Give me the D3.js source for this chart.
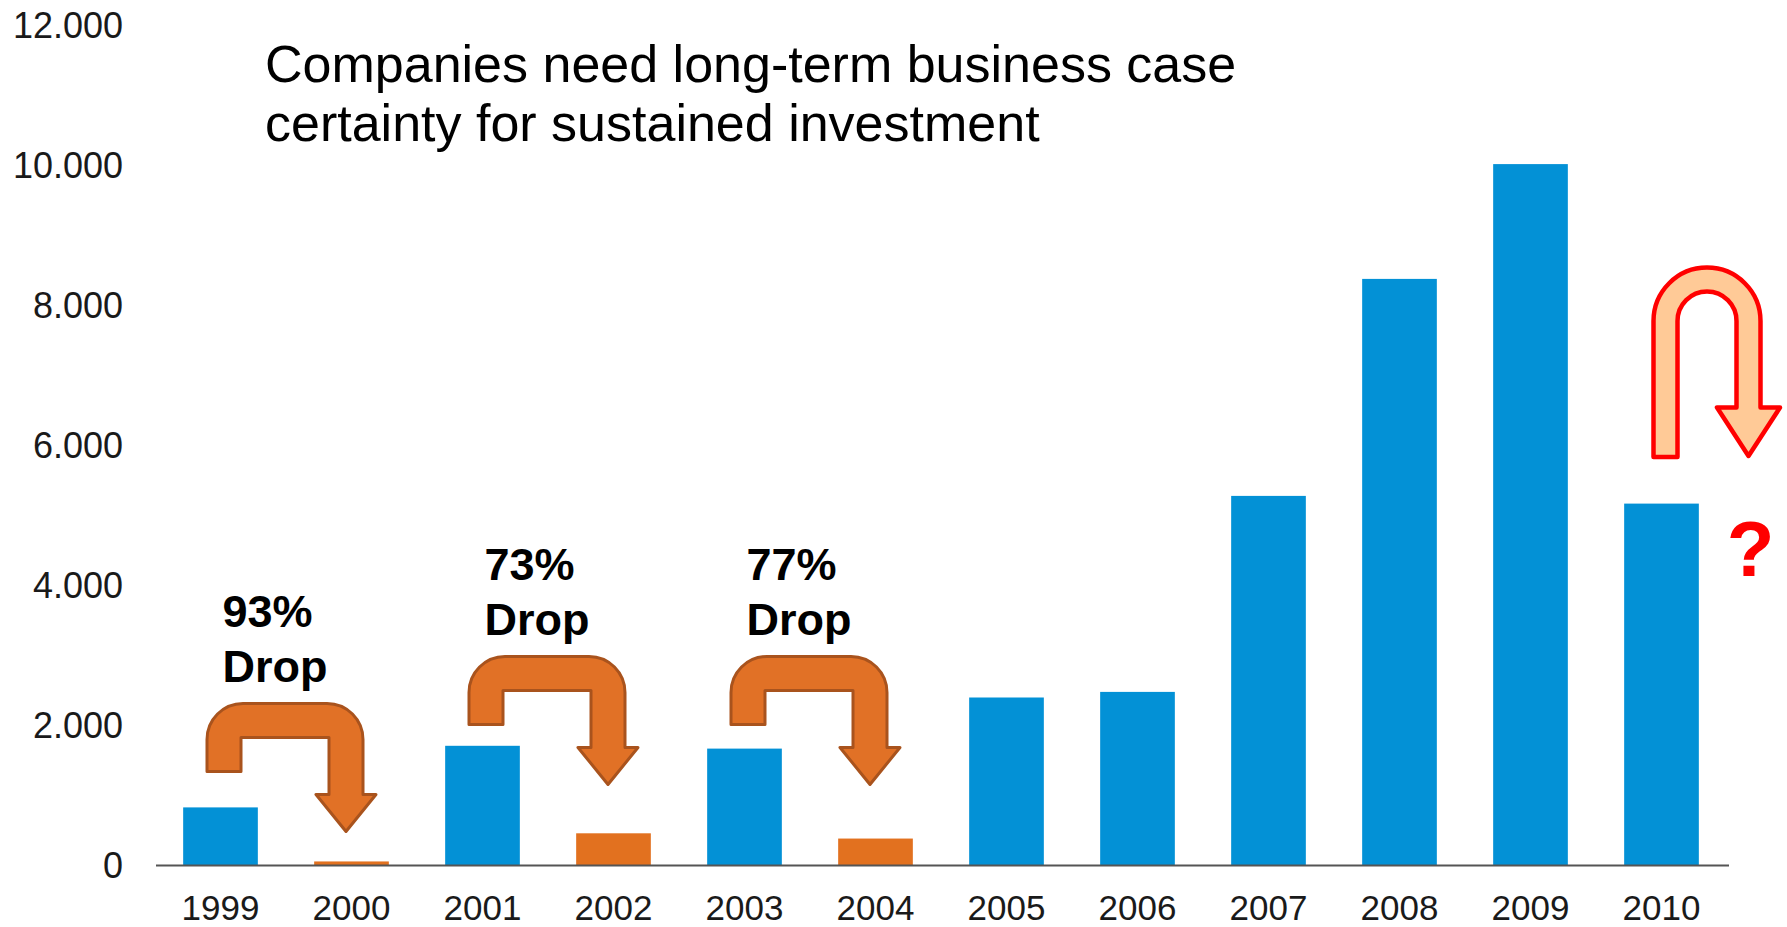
<!DOCTYPE html>
<html>
<head>
<meta charset="utf-8">
<script src="https://cdn.jsdelivr.net/npm/d3@7"></script>
<style>
  html, body { margin: 0; padding: 0; background: #ffffff; }
  svg { display: block; }
  text { font-family: "Liberation Sans", Arial, sans-serif; }
</style>
</head>
<body>
<svg id="chart" width="1787" height="927"></svg>
<script>
// Annual volumes, 1999–2010
const years = ["1999", "2000", "2001", "2002", "2003", "2004", "2005", "2006", "2007", "2008", "2009", "2010"];
const values = [830, 58, 1710, 460, 1670, 385, 2400, 2480, 5280, 8380, 10020, 5170];
const dropYears = ["2000", "2002", "2004"];

const yTicks = [0, 2000, 4000, 6000, 8000, 10000, 12000];

// Year-on-year collapses that get a bent arrow
const dropFrom = ["1999", "2001", "2003"];
const dropTo = ["2000", "2002", "2004"];
const dropLabels = ["93%", "73%", "77%"];

const titleLines = ["Companies need long-term business case", "certainty for sustained investment"];

// ---- layout ----
const svg = d3.select("#chart");
const FONT = "'Liberation Sans', Arial, sans-serif";
const BLUE = "#0391d6";
const ORANGE = "#e2711f";

const x = d3.scaleBand()
  .domain(years)
  .range([155, 1727])
  .paddingInner(0.43)
  .paddingOuter(0.215);

const y = d3.scaleLinear()
  .domain([0, 12000])
  .range([865.5, 25.5]);

const fmt = d3.formatLocale({ decimal: ",", thousands: ".", grouping: [3], currency: ["", ""] }).format(",d");

// bars
svg.append("g")
  .selectAll("rect")
  .data(years.map((yr, i) => ({ yr, v: values[i] })))
  .join("rect")
  .attr("x", d => x(d.yr))
  .attr("width", x.bandwidth())
  .attr("y", d => y(d.v))
  .attr("height", d => y(0) - y(d.v))
  .attr("fill", d => dropYears.includes(d.yr) ? ORANGE : BLUE);

// y axis (labels only)
const yAxis = svg.append("g")
  .attr("transform", "translate(123,0)")
  .call(d3.axisLeft(y).tickValues(yTicks).tickSize(0).tickPadding(0).tickFormat(fmt));
yAxis.select(".domain").remove();
yAxis.selectAll("text")
  .attr("x", 0)
  .attr("dy", "0.33em")
  .attr("fill", "#1a1a1a")
  .style("font-family", FONT)
  .style("font-size", "36px");

// x axis
const xAxis = svg.append("g")
  .attr("transform", `translate(0,${y(0)})`)
  .call(d3.axisBottom(x).tickSize(0).tickPadding(0).tickSizeOuter(0));
xAxis.select(".domain")
  .attr("d", `M156,0H1729`)
  .attr("stroke", "#555555")
  .attr("stroke-width", 2);
xAxis.selectAll("text")
  .attr("y", 54.5)
  .attr("dy", 0)
  .attr("fill", "#1a1a1a")
  .style("font-family", FONT)
  .style("font-size", "35px");

// title
svg.append("text")
  .attr("x", 265)
  .attr("y", 82)
  .style("font-family", FONT)
  .style("font-size", "52px")
  .attr("fill", "#000")
  .selectAll("tspan")
  .data(titleLines)
  .join("tspan")
  .attr("x", 265)
  .attr("dy", (d, i) => i === 0 ? 0 : 59)
  .text(d => d);

// ---- bent "drop" arrows ----
function bentArrow(xL, xR, top) {
  const w = 34, r = 36, hh = 30;
  const tailBottom = top + 68, headBase = top + 91, tip = top + 128;
  const cx = xR - w / 2;
  return [
    `M${xL},${tailBottom}`,
    `L${xL},${top + r}`,
    `A${r},${r} 0 0 1 ${xL + r},${top}`,
    `L${xR - r},${top}`,
    `A${r},${r} 0 0 1 ${xR},${top + r}`,
    `L${xR},${headBase}`,
    `L${cx + hh},${headBase}`,
    `L${cx},${tip}`,
    `L${cx - hh},${headBase}`,
    `L${xR - w},${headBase}`,
    `L${xR - w},${top + w}`,
    `L${xL + w},${top + w}`,
    `L${xL + w},${tailBottom}`,
    "Z"
  ].join("");
}

const arrowTops = [702, 655, 655];
const centre = yr => x(yr) + x.bandwidth() / 2;

const drops = svg.append("g");
dropLabels.forEach((lab, i) => {
  const xL = centre(dropFrom[i]) - 15;
  const xR = centre(dropTo[i]) + 13;
  const top = arrowTops[i];
  drops.append("path")
    .attr("d", bentArrow(xL + 1.5, xR - 1.5, top + 1.5))
    .attr("fill", "#e17126")
    .attr("stroke", "#a9531d")
    .attr("stroke-width", 3)
    .attr("stroke-linejoin", "round");
  const t = drops.append("text")
    .attr("x", xL + 17)
    .attr("y", top - 75)
    .attr("fill", "#000")
    .style("font-family", FONT)
    .style("font-size", "45px")
    .style("font-weight", "bold");
  t.append("tspan").attr("x", xL + 17).text(lab);
  t.append("tspan").attr("x", xL + 17).attr("dy", 55).text("Drop");
});

// ---- U-turn arrow beside the final year ----
function uTurn(xL, xR, cy, w, tailBottom, headBase, hh, tip) {
  const R = (xR - xL) / 2, r = R - w;
  const cx = xR - w / 2;
  return [
    `M${xL},${tailBottom}`,
    `L${xL},${cy}`,
    `A${R},${R} 0 0 1 ${xR},${cy}`,
    `L${xR},${headBase}`,
    `L${cx + hh},${headBase}`,
    `L${cx},${tip}`,
    `L${cx - hh},${headBase}`,
    `L${xR - w},${headBase}`,
    `L${xR - w},${cy}`,
    `A${r},${r} 0 0 0 ${xL + w},${cy}`,
    `L${xL + w},${tailBottom}`,
    "Z"
  ].join("");
}

const last = centre(years[years.length - 1]);
svg.append("path")
  .attr("d", uTurn(last - 8, last + 99, 321, 24, 457, 407.5, 31.5, 456))
  .attr("fill", "#ffca97")
  .attr("stroke", "#ff0000")
  .attr("stroke-width", 4.5)
  .attr("stroke-linejoin", "round");

svg.append("text")
  .attr("x", last + 89)
  .attr("y", 576)
  .attr("text-anchor", "middle")
  .attr("fill", "#ff0000")
  .style("font-family", FONT)
  .style("font-size", "78px")
  .style("font-weight", "bold")
  .text("?");
</script>
</body>
</html>
